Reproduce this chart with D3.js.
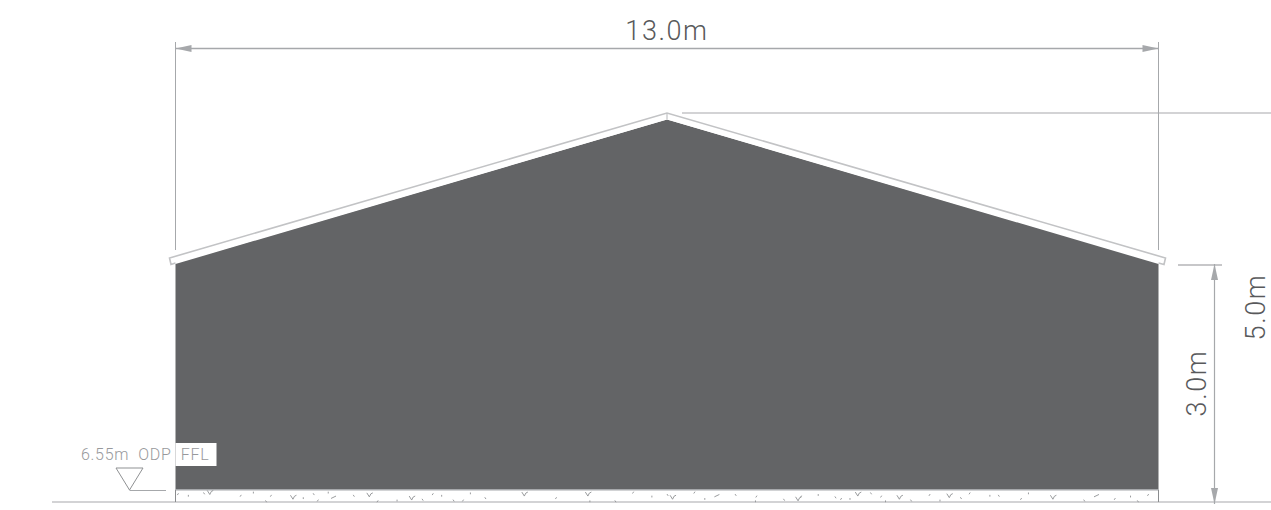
<!DOCTYPE html>
<html>
<head>
<meta charset="utf-8">
<script src="https://cdn.jsdelivr.net/npm/d3@7"></script>
<style>
html,body{margin:0;padding:0;background:#fff;overflow:hidden}
text{font-family:"Roboto",sans-serif;font-weight:300}
</style>
</head>
<body>
<svg id="chart" width="1271" height="510"></svg>
<script>
// section through the shed, metres
const wallProfile = [[0,0.16],[0,3],[6.5,5],[13,3],[13,0.16]];
const spanLabel = "13.0m";
const eavesLabel = "3.0m";
const ridgeLabel = "5.0m";
const levelLabel = "6.55m  ODP  FFL";
// flecks in the slab: distance along in metres, height above ground in metres
const speckX = [0.04,0.17,0.37,0.87,1.03,1.19,1.27,1.69,1.82,1.89,2.02,2.35,2.68,2.93,3.26,3.41,3.52,3.67,3.81,3.90,4.09,5.04,5.48,5.81,6.06,6.30,6.50,
  6.87,7.00,7.40,7.69,7.67,8.04,8.28,8.50,8.72,8.81,8.92,9.19,9.34,9.39,9.72,9.98,10.11,10.38,10.51,10.77,10.88,11.19,11.28,12.01,12.43,12.63,12.72,12.87];
const speckH = [0.11,0.09,0.12,0.09,0.13,0.02,0.09,0.06,0.11,0.03,0.13,0.09,0.02,0.03,0.04,0.11,0.09,0.03,0.03,0.12,0.06,0.06,0.02,0.02,0.13,0.08,0.10,
  0.13,0.05,0.10,0.08,0.02,0.04,0.08,0.10,0.07,0.05,0.05,0.12,0.08,0.02,0.03,0.10,0.03,0.06,0.12,0.09,0.09,0.05,0.12,0.03,0.05,0.08,0.02,0.10];
const clusterX = [0.46,1.56,2.57,3.13,4.62,5.46,6.58,8.24,9.03,9.58,10.24,11.61];
const clusterH = [0.12,0.06,0.09,0.05,0.10,0.10,0.06,0.04,0.10,0.06,0.08,0.06];
const dashX = [2.09,7.16,12.18];
const dashH = [0.06,0.08,0.08];

const x = d3.scaleLinear().domain([0,13]).range([175.5,1158.5]);
const y = d3.scaleLinear().domain([0,3,5]).range([502,264,119.5]);
const svg = d3.select("#chart");
const line = d3.line().x(d=>x(d[0])).y(d=>y(d[1]));

const grey = "#a6a8ab", dark = "#636466", pale = "#c2c3c5", ink = "#58595b";

// ground
svg.append("line").attr("x1",52).attr("x2",1271).attr("y1",y(0)).attr("y2",y(0))
	.style("stroke","#c4c5c7").style("stroke-width",1.5);

// building
svg.append("path").attr("d",line(wallProfile)+"Z").style("fill",dark);
svg.append("line").attr("x1",x(0)).attr("x2",x(13)).attr("y1",y(0.155)).attr("y2",y(0.155))
	.style("stroke",grey).style("stroke-width",1.5);
svg.selectAll(".wallfoot").data([0,13]).join("line").attr("class","wallfoot")
	.attr("x1",d=>x(d)).attr("x2",d=>x(d)).attr("y1",y(0.155)).attr("y2",y(0))
	.style("stroke","#8a8c8e").style("stroke-width",1);

// slab flecks
svg.selectAll(".speck").data(speckX).join("line").attr("class","speck")
	.attr("x1",d=>x(d)).attr("x2",(d,i)=>x(d)+(i%3-1)*1.2)
	.attr("y1",(d,i)=>y(speckH[i])).attr("y2",(d,i)=>y(speckH[i])+1.8)
	.style("stroke","#8f9193").style("stroke-width",0.9);
svg.selectAll(".cluster").data(clusterX).join("path").attr("class","cluster")
	.attr("d",(d,i)=>d3.line()([[x(d)-3,y(clusterH[i])-2],[x(d)-0.5,y(clusterH[i])+2],[x(d)+1,y(clusterH[i])-1],[x(d)+3,y(clusterH[i])-2]]))
	.style("fill","none").style("stroke","#8f9193").style("stroke-width",0.9);
svg.selectAll(".dash").data(dashX).join("line").attr("class","dash")
	.attr("x1",d=>x(d)-2.5).attr("x2",d=>x(d)+2.5)
	.attr("y1",(d,i)=>y(dashH[i])+1.2).attr("y2",(d,i)=>y(dashH[i])-1.2)
	.style("stroke","#8f9193").style("stroke-width",0.9);

// roof sheet, white strip with only the top and the ends drawn
const roofFill = [[169.5,258],[667,113],[1165.5,258],[1164,264.5],[667,119.5],[171,264.5]];
const roofEdge = [[175.5,263],[171,264.5],[169.5,258],[667,113],[1165.5,258],[1164,264.5],[1158.5,263]];
svg.append("path").attr("d",d3.line()(roofFill)+"Z").style("fill","#fff");
svg.append("path").attr("d",d3.line()(roofEdge))
	.style("fill","none").style("stroke",pale).style("stroke-width",1.6);
svg.append("line").attr("x1",x(6.5)).attr("x2",x(6.5)).attr("y1",113).attr("y2",119.5)
	.style("stroke",pale).style("stroke-width",1.2);

// ridge leader
svg.append("line").attr("x1",682).attr("x2",1271).attr("y1",113).attr("y2",113)
	.style("stroke","#c4c5c7").style("stroke-width",1.4);

// span dimension
const dimY = 48.5;
svg.selectAll(".ext").data([0,13]).join("line").attr("class","ext")
	.attr("x1",d=>x(d)).attr("x2",d=>x(d)).attr("y1",42).attr("y2",250)
	.style("stroke",grey).style("stroke-width",1);
svg.append("line").attr("x1",x(0)).attr("x2",x(13)).attr("y1",dimY).attr("y2",dimY)
	.style("stroke",grey).style("stroke-width",1.3);
svg.selectAll(".ah").data([[0,1],[13,-1]]).join("path").attr("class","ah")
	.attr("d",d=>d3.line()([[x(d[0]),dimY],[x(d[0])+d[1]*16,dimY-3.5],[x(d[0])+d[1]*16,dimY+3.5]])+"Z")
	.style("fill",grey);
svg.append("text").attr("x",x(6.5)).attr("y",40).attr("text-anchor","middle")
	.attr("font-size",27).attr("letter-spacing",1.6).style("fill",ink).text(spanLabel);

// height dimension
const dimX = 1214.5;
svg.append("line").attr("x1",1178).attr("x2",1222).attr("y1",y(3)+1).attr("y2",y(3)+1)
	.style("stroke","#b4b5b7").style("stroke-width",1.4);
svg.append("line").attr("x1",dimX).attr("x2",dimX).attr("y1",y(3)).attr("y2",y(0)+2)
	.style("stroke",grey).style("stroke-width",1.2);
svg.selectAll(".av").data([[y(3),1],[y(0)+2,-1]]).join("path").attr("class","av")
	.attr("d",d=>d3.line()([[dimX,d[0]],[dimX-3.5,d[0]+d[1]*16],[dimX+3.5,d[0]+d[1]*16]])+"Z")
	.style("fill",grey);
svg.append("text").attr("transform","translate(1206,383) rotate(-90)").attr("text-anchor","middle")
	.attr("font-size",27).attr("letter-spacing",1.6).style("fill",ink).text(eavesLabel);
svg.append("text").attr("transform","translate(1265,307) rotate(-90)").attr("text-anchor","middle")
	.attr("font-size",27).attr("letter-spacing",1.6).style("fill",ink).text(ridgeLabel);

// level marker
svg.append("rect").attr("x",x(0)).attr("y",443).attr("width",41).attr("height",23).style("fill","#fff");
svg.append("text").attr("x",81).attr("y",460).attr("font-size",16).attr("letter-spacing",0.7)
	.style("fill","#98999c").style("white-space","pre").text(levelLabel);
svg.append("path").attr("d",d3.line()([[116,468],[143,468],[129.5,490]])+"Z")
	.style("fill","none").style("stroke","#8f9193").style("stroke-width",1);
svg.append("line").attr("x1",129.5).attr("x2",166).attr("y1",490.5).attr("y2",490.5)
	.style("stroke",grey).style("stroke-width",1.2);
</script>
</body>
</html>
